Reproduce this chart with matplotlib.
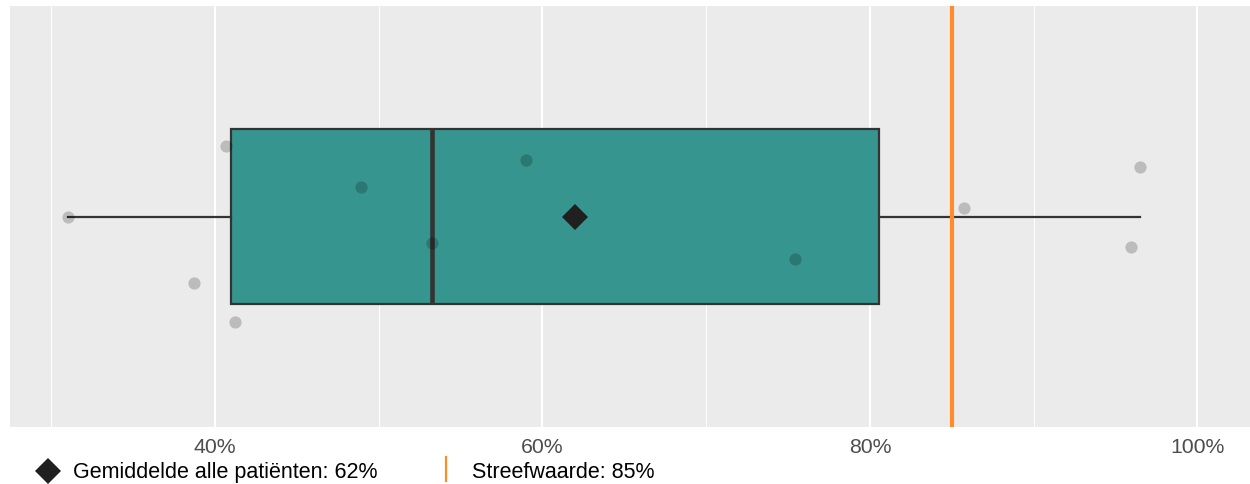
import matplotlib
matplotlib.use("Agg")
import matplotlib.pyplot as plt
import numpy as np

plt.rcParams['font.family'] = ['Liberation Sans', 'DejaVu Sans']

# percentages per patient
scores = [31.0, 38.7, 40.65, 41.25, 48.9, 53.25, 59.0, 75.4, 85.75, 95.95, 96.5]
# vertical jitter of each point (in category units)
jitter = [0.0, -0.19, 0.20, -0.30, 0.085, -0.075, 0.16, -0.12, 0.023, -0.087, 0.14]
mean_all = 62
target = 85
major_ticks = [40, 60, 80, 100]
minor_ticks = [30, 50, 70, 90]
tick_labels = ["40%", "60%", "80%", "100%"]
legend_mean = "Gemiddelde alle patiënten: 62%"
legend_target = "Streefwaarde: 85%"

fig = plt.figure(figsize=(12.5, 4.85), dpi=100)
ax = fig.add_axes([0.008, 0.1175, 0.992, 0.868])
ax.set_facecolor("#EBEBEB")

for t in major_ticks:
    ax.axvline(t, color="white", lw=1.5, zorder=0)
for t in minor_ticks:
    ax.axvline(t, color="white", lw=0.75, zorder=0)

ax.boxplot(scores, orientation="horizontal", positions=[1], widths=0.5,
           patch_artist=True, showcaps=False, showfliers=False,
           boxprops=dict(facecolor="#36968F", edgecolor="#333333", linewidth=1.6),
           medianprops=dict(color="#333333", linewidth=3.3),
           whiskerprops=dict(color="#333333", linewidth=1.6),
           zorder=2)

ax.axvline(target, color="#FF8B2A", lw=3, zorder=3)

ys = 1 + np.array(jitter)
ax.plot(scores, ys, "o", color="black", alpha=0.2, markersize=8.8,
        markeredgewidth=0, zorder=4)

ax.plot([mean_all], [1], "D", color="#202020", markersize=13.5,
        markeredgewidth=0, zorder=5)

ax.set_xlim(27.48, 103.21)
ax.set_ylim(0.4, 1.6)
ax.set_xticks(major_ticks)
ax.set_xticklabels(tick_labels)
ax.set_yticks([])
ax.tick_params(axis="x", length=0, pad=7, labelsize=15.3, labelcolor="#4D4D4D")
for s in ax.spines.values():
    s.set_visible(False)

# legend at the bottom
fig.lines.append(plt.Line2D([0.0386], [0.0274], marker="D", color="#202020",
                            markersize=13.5, markeredgewidth=0, linestyle="none",
                            transform=fig.transFigure))
fig.text(0.0585, 0.026, legend_mean, fontsize=15.5, va="center", ha="left", color="black")
fig.lines.append(plt.Line2D([0.3568, 0.3568], [0.0062, 0.0557], color="#FF8B2A",
                            lw=1.6, transform=fig.transFigure))
fig.text(0.3774, 0.026, legend_target, fontsize=15.5, va="center", ha="left", color="black")

fig.savefig("out.png", dpi=100)
